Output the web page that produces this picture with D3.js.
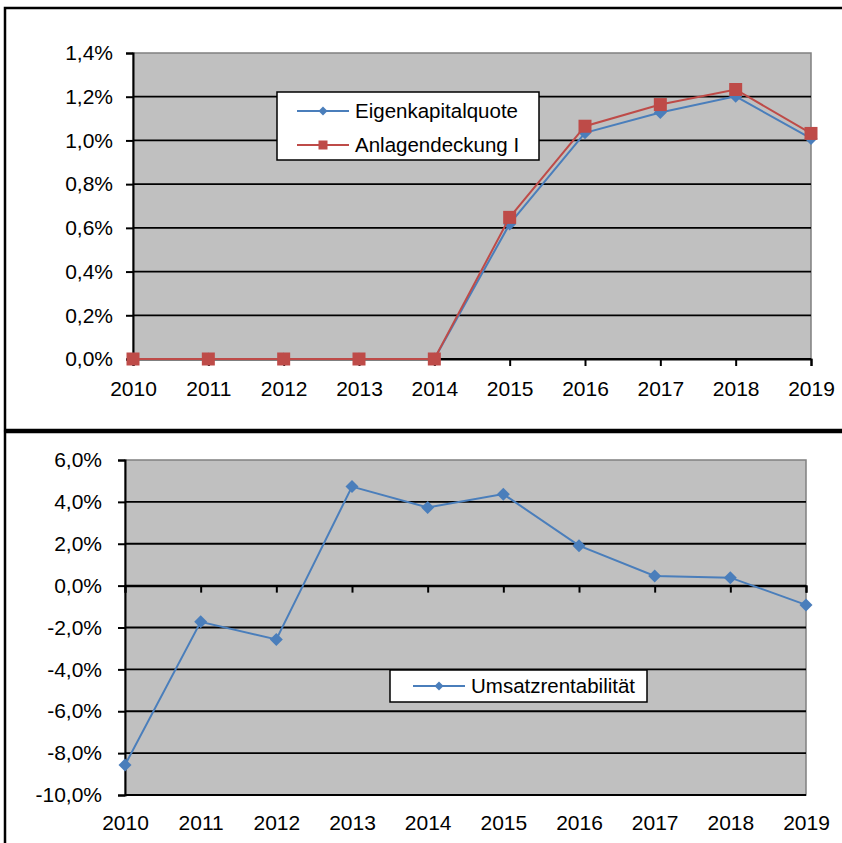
<!DOCTYPE html>
<html>
<head>
<meta charset="utf-8">
<script src="https://cdn.jsdelivr.net/npm/d3@7"></script>
<style>
    body { margin: 0; background: #fff; }
    svg text { font-family: "Liberation Sans", Arial, sans-serif; fill: #000; }
</style>
</head>
<body>
<div id="chart"></div>
<script>

// data
var years = ['2010', '2011', '2012', '2013', '2014', '2015', '2016', '2017', '2018', '2019'];
var eigenkapitalquote = [0, 0, 0, 0, 0, 0.618, 1.035, 1.128, 1.202, 1.009];
var anlagendeckung = [0, 0, 0, 0, 0, 0.648, 1.065, 1.164, 1.233, 1.032];
var umsatzrentabilitaet = [-8.57, -1.73, -2.57, 4.73, 3.73, 4.37, 1.91, 0.46, 0.38, -0.92];
var topTicks = [0, 0.2, 0.4, 0.6, 0.8, 1.0, 1.2, 1.4];
var bottomTicks = [-10, -8, -6, -4, -2, 0, 2, 4, 6];

var blue = '#4a7ebb';
var red = '#be4b48';

function pct(v) {
    return (v < 0 ? '-' : '') + Math.abs(v).toFixed(1).replace('.', ',') + '%';
}

function marker(sel, type, r) {
    if (type == 'square') {
        return sel.append('rect')
            .attr('x', -r).attr('y', -r)
            .attr('width', 2 * r).attr('height', 2 * r)
            .style('fill', red);
    }
    return sel.append('path')
        .attr('d', 'M0,' + (-r) + 'L' + r + ',0L0,' + r + 'L' + (-r) + ',0Z')
        .style('fill', blue);
}

var svg = d3.select('#chart')
    .append('svg')
    .attr('width', 842)
    .attr('height', 843);

// outer frames
svg.append('rect')
    .attr('x', 5).attr('y', 8).attr('width', 900).attr('height', 422)
    .style('fill', 'none').style('stroke', '#000').style('stroke-width', 2.5);
svg.append('rect')
    .attr('x', 5).attr('y', 432).attr('width', 900).attr('height', 500)
    .style('fill', 'none').style('stroke', '#000').style('stroke-width', 2.5);

function drawChart(opt) {

    var x = d3.scalePoint().domain(years).range([opt.left, opt.right]);
    var y = d3.scaleLinear().domain(d3.extent(opt.ticks)).range([opt.bottom, opt.top]);

    var g = svg.append('g');

    g.append('rect')
        .attr('x', opt.left).attr('y', opt.top)
        .attr('width', opt.right - opt.left)
        .attr('height', opt.bottom - opt.top)
        .style('fill', '#c0c0c0')
        .style('stroke', '#808080')
        .style('stroke-width', 1.5);

    g.selectAll('line.grid')
        .data(opt.ticks.slice(0, -1))
        .enter()
        .append('line')
        .attr('class', 'grid')
        .attr('x1', opt.left).attr('x2', opt.right)
        .attr('y1', d => y(d)).attr('y2', d => y(d))
        .style('stroke', '#000')
        .style('stroke-width', 1.8);

    // y axis
    var yAxis = g.append('g')
        .attr('transform', 'translate(' + opt.left + ',0)')
        .call(d3.axisLeft(y).tickValues(opt.ticks).tickSize(7).tickPadding(opt.yPad).tickFormat(pct));

    // x axis line with ticks at the zero line
    var xAxis = g.append('g')
        .attr('transform', 'translate(0,' + y(0) + ')')
        .call(d3.axisBottom(x).tickSize(7).tickFormat(''));

    // x labels below the plot
    var xLabels = g.append('g')
        .attr('transform', 'translate(0,' + opt.bottom + ')')
        .call(d3.axisBottom(x).tickSize(0).tickPadding(opt.labelPad));
    xLabels.select('.domain').remove();

    [yAxis, xAxis, xLabels].forEach(function(a) {
        a.selectAll('.domain').style('stroke', '#000').style('stroke-width', 2);
        a.selectAll('.tick line').style('stroke', '#000').style('stroke-width', 2);
        a.selectAll('text')
            .style('font-size', '21px')
            .style('font-family', '"Liberation Sans", Arial, sans-serif');
    });

    opt.series.forEach(function(s) {
        var line = d3.line()
            .x((d, i) => x(years[i]))
            .y(d => y(d));
        g.append('path')
            .datum(s.values)
            .attr('d', line)
            .style('fill', 'none')
            .style('stroke', s.color)
            .style('stroke-width', 2);

        g.selectAll(null)
            .data(s.values)
            .enter()
            .append('g')
            .attr('transform', (d, i) => 'translate(' + x(years[i]) + ',' + y(d) + ')')
            .each(function() {
                marker(d3.select(this), s.marker, 6.5);
            });
    });

    // legend
    var lg = g.append('g');
    lg.append('rect')
        .attr('x', opt.legend.x).attr('y', opt.legend.y)
        .attr('width', opt.legend.w).attr('height', opt.legend.h)
        .style('fill', '#fff')
        .style('stroke', '#000')
        .style('stroke-width', 1.5);

    var items = lg.selectAll('g.item')
        .data(opt.series)
        .enter()
        .append('g')
        .attr('class', 'item')
        .attr('transform', (d, i) => 'translate(' + opt.legend.lineX + ',' + (opt.legend.firstY + i * opt.legend.rowH) + ')');
    items.append('line')
        .attr('x1', 0).attr('x2', 52)
        .style('stroke', d => d.color)
        .style('stroke-width', 2);
    items.each(function(d) {
        marker(d3.select(this).append('g').attr('transform', 'translate(26,0)'), d.marker, 4.5);
    });
    items.append('text')
        .attr('x', 58)
        .attr('dy', '0.35em')
        .style('font-size', '20.5px')
        .text(d => d.name);
}

drawChart({
    left: 133, right: 811, top: 53, bottom: 359,
    ticks: topTicks,
    yPad: 13,
    labelPad: 22,
    series: [
        { name: 'Eigenkapitalquote', values: eigenkapitalquote, color: blue, marker: 'diamond' },
        { name: 'Anlagendeckung I', values: anlagendeckung, color: red, marker: 'square' }
    ],
    legend: { x: 277, y: 92, w: 262, h: 68, lineX: 297, firstY: 111, rowH: 34 }
});

drawChart({
    left: 125, right: 806, top: 460, bottom: 795,
    ticks: bottomTicks,
    yPad: 16,
    labelPad: 20,
    series: [
        { name: 'Umsatzrentabilität', values: umsatzrentabilitaet, color: blue, marker: 'diamond' }
    ],
    legend: { x: 390, y: 670, w: 257, h: 32, lineX: 413, firstY: 686, rowH: 0 }
});

</script>
</body>
</html>
